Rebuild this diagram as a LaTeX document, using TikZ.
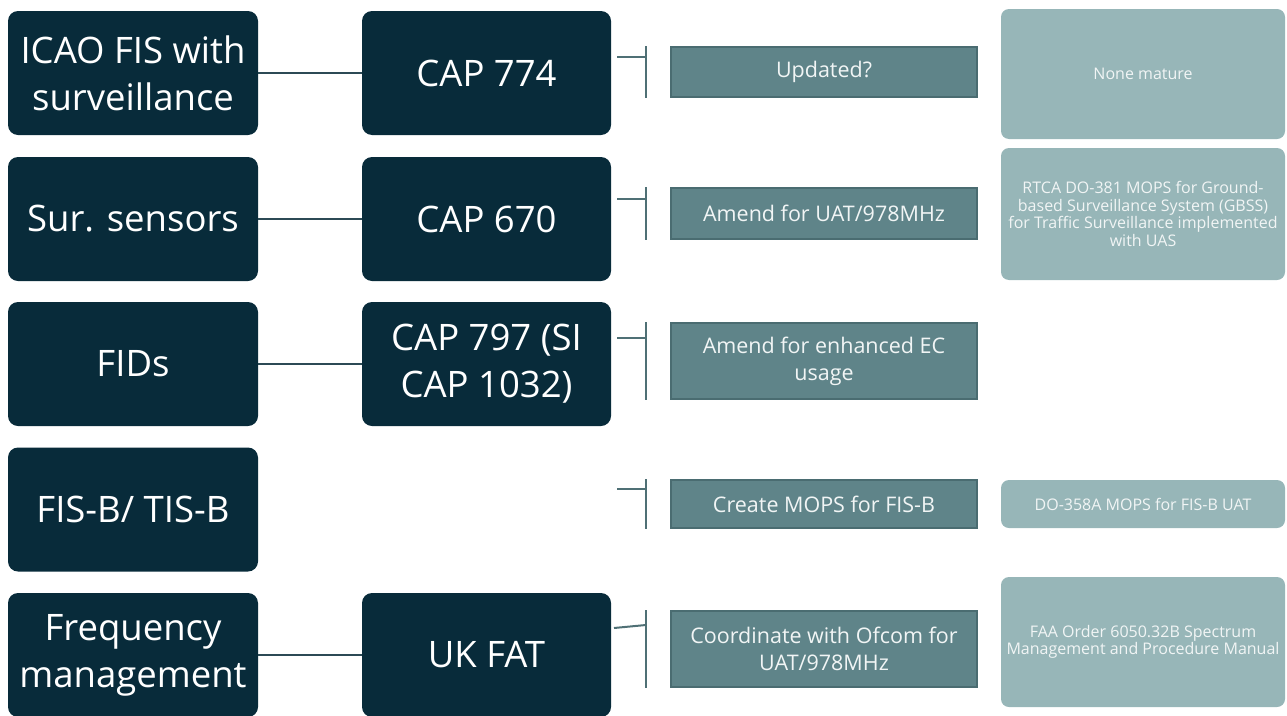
\documentclass[tikz,border=0pt]{standalone}
\usepackage{fontspec}
\setmainfont{Open Sans}
\definecolor{navy}{HTML}{082B3A}
\definecolor{midteal}{HTML}{5F8489}
\definecolor{midedge}{HTML}{4A6C71}
\definecolor{paleteal}{HTML}{97B6B8}
\definecolor{paletext}{HTML}{F1F5F5}
\definecolor{linknavy}{HTML}{2C4A55}
\definecolor{linkteal}{HTML}{4F7075}
\begin{document}
\begin{tikzpicture}[x=1pt,y=-1pt,
  topic/.style={fill=navy, rounded corners=10pt, text=white, align=center,
    minimum width=250pt, minimum height=124pt, inner sep=0pt,
    font=\fontsize{36.5}{47}\selectfont},
  action/.style={fill=midteal, draw=midedge, line width=1.2pt, text=paletext,
    align=center, minimum width=306pt, inner sep=0pt,
    font=\fontsize{21.5}{27}\selectfont},
  source/.style={fill=paleteal, rounded corners=8pt, text=paletext, align=center,
    minimum width=284pt, inner sep=0pt,
    font=\fontsize{16}{17.5}\selectfont},
  link/.style={draw=linknavy, line width=2pt},
  brace/.style={draw=linkteal, line width=2pt}]
\useasboundingbox (0,0) rectangle (1287,715);
\begin{scope}
\clip (0,0) rectangle (1287,715);

% first column: topics
\node[topic] (t1) at (133,73)   {ICAO FIS with\\surveillance};
\node[topic] (t2) at (133,219)  {Sur. sensors};
\node[topic] (t3) at (133,364)  {FIDs};
\node[topic] (t4) at (133,509.5){FIS-B/ TIS-B};
\node[topic] (t5) at (133,655)  {Frequency\\management};

% second column: documents
\node[topic, minimum width=249pt] (d1) at (486.5,73)  {CAP 774};
\node[topic, minimum width=249pt] (d2) at (486.5,219) {CAP 670};
\node[topic, minimum width=249pt] (d3) at (486.5,364) {CAP 797 (SI\\CAP 1032)};
\node[topic, minimum width=249pt] (d5) at (486.5,655) {UK FAT};

% third column: actions
\node[action, minimum height=50pt] (a1) at (824,72)    {Updated?};
\node[action, minimum height=51pt] (a2) at (824,213.5) {Amend for UAT/978MHz};
\node[action, minimum height=76pt] (a3) at (824,361)   {Amend for enhanced EC\\usage};
\node[action, minimum height=48pt] (a4) at (824,504)   {Create MOPS for FIS-B};
\node[action, minimum height=76pt] (a5) at (824,649)   {Coordinate with Ofcom for\\UAT/978MHz};

% fourth column: reference material
\node[source, minimum height=130pt] (s1) at (1143,74)  {None mature};
\node[source, minimum height=132pt] (s2) at (1143,214) {RTCA DO-381 MOPS for Ground-\\based Surveillance System (GBSS)\\for Traffic Surveillance implemented\\with UAS};
\node[source, minimum height=48pt]  (s4) at (1143,504) {DO-358A MOPS for FIS-B UAT};
\node[source, minimum height=130pt] (s5) at (1143,642) {FAA Order 6050.32B Spectrum\\Management and Procedure Manual};

% topic to document links
\foreach \i in {1,2,3,5} \draw[link] (t\i.east) -- (d\i.west);

% bracket stubs in front of the actions
\coordinate (b1) at (617,57);
\coordinate (b2) at (617,199);
\coordinate (b3) at (617,338);
\coordinate (b4) at (617,489);
\coordinate (b5) at (614,628);
\foreach \i in {1,2,3,4} {
  \draw[brace] (b\i) -- (b\i -| 646,0);
  \draw[brace] (a\i.north -| 646,0) -- (a\i.south -| 646,0);
}
\draw[brace] (b5) -- (646,625);
\draw[brace] (a5.north -| 646,0) -- (a5.south -| 646,0);
\end{scope}
\end{tikzpicture}
\end{document}
